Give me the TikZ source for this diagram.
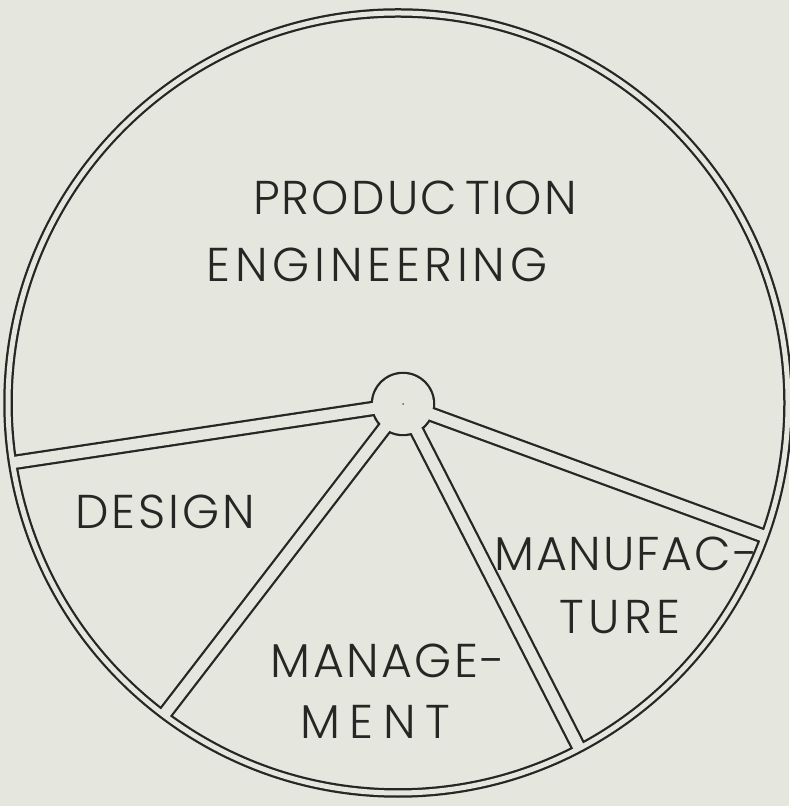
\documentclass[tikz,border=0pt]{standalone}
\usepackage{fontspec}
\setmainfont{Poppins}[UprightFont={* Light}]
\usetikzlibrary{calc}
\definecolor{paper}{RGB}{229,231,223}
\definecolor{ink}{RGB}{38,38,36}
\tikzset{
  sector/.style={inner sep=0pt,text=ink,
    font=\fontsize{27}{30}\selectfont\addfontfeature{LetterSpace=#1}},
  sector/.default=6,
  rim/.style={line cap=butt},
}
\begin{document}
\begin{tikzpicture}[x=1cm,y=1cm,line join=round]
  \useasboundingbox[fill=paper] (0,0) rectangle (15.78,16.12);
  \coordinate (O) at (7.96,8.06);
  \coordinate (H) at (8.06,8.04);
  % ends of the spokes on the middle of the rim
  \coordinate (eL) at ($(O)+(188.8:7.80)$);
  \coordinate (eD) at ($(O)+(233.1:7.80)$);
  \coordinate (eB) at ($(O)+(297.7:7.80)$);
  \coordinate (eR) at ($(O)+(340.0:7.80)$);
  % ink first, then paper inside the channels
  \draw[rim,ink,line width=0.19cm] (O) circle (7.80);
  \foreach \e in {eL,eD,eB,eR} {\draw[rim,ink,line width=0.31cm] (H) -- (\e);}
  \fill[ink] (H) circle (0.645);
  \draw[rim,paper,line width=0.10cm] (O) circle (7.80);
  \foreach \e in {eL,eD,eB,eR} {\draw[rim,paper,line width=0.22cm] (H) -- (\e);}
  \fill[paper] (H) circle (0.60);
  \fill[ink!70] (H) circle (0.02);
  \node[sector=4.5] (lblProd) at (8.30,12.16) {PRODUC\,TION};
  \node[sector=10] (lblEng) at (7.54,10.82) {ENGINEERING};
  \node[sector=6] (lblDes) at (3.30,5.88) {DESIGN};
  \node[sector=5] (lblMan1) at (7.76,2.90) {MANAGE-};
  \node[sector=20] (lblMan2) at (7.50,1.68) {MENT};
  \node[sector=4] (lblMfg1) at (12.52,5.04) {MANUFAC-};
  \node[sector=9] (lblMfg2) at (12.40,3.78) {TURE};
\end{tikzpicture}
\end{document}
